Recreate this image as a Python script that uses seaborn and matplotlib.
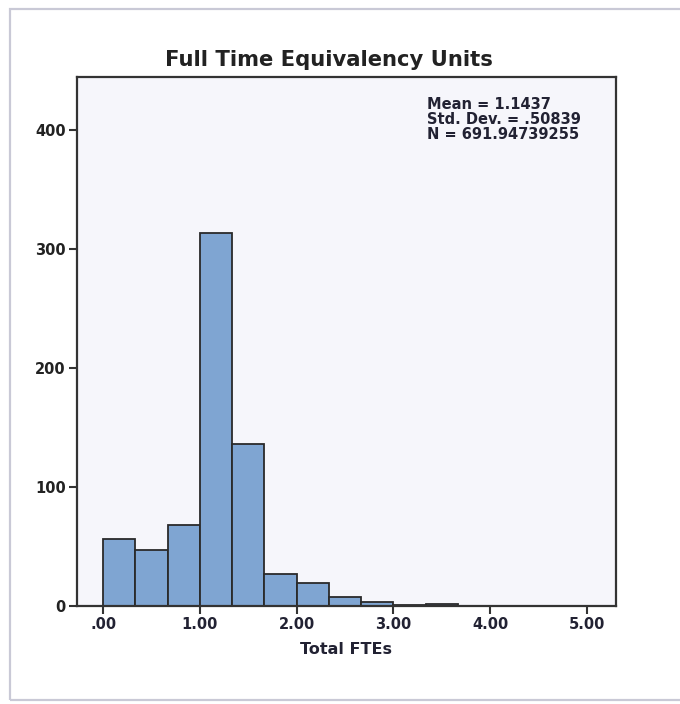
import numpy as np
import pandas as pd
import matplotlib
matplotlib.use("Agg")
import matplotlib.pyplot as plt
from matplotlib.patches import Rectangle
import seaborn as sns

# ---- data (weighted counts per 1/3-unit bin) ----
bin_centers = [0.1667, 0.5, 0.8333, 1.1667, 1.5, 1.8333, 2.1667, 2.5, 2.8333, 3.1667, 3.5]
bin_counts = [56.5, 47.5, 68.0, 314.0, 136.0, 26.5, 19.0, 7.5, 3.5, 0.5, 1.5]
bin_edges = [0.0, 0.3333, 0.6667, 1.0, 1.3333, 1.6667, 2.0, 2.3333, 2.6667, 3.0, 3.3333, 3.6667]
x_ticks = [0, 1, 2, 3, 4, 5]
x_tick_labels = [".00", "1.00", "2.00", "3.00", "4.00", "5.00"]
y_ticks = [0, 100, 200, 300, 400]
title_text = "Full Time Equivalency Units"
x_label = "Total FTEs"
stats_lines = ["Mean = 1.1437", "Std. Dev. = .50839", "N = 691.94739255"]

df = pd.DataFrame({"fte": bin_centers, "w": bin_counts})

sns.set_style("ticks")
plt.rcParams["font.family"] = ["DejaVu Sans"]

W, H = 680, 704
fig = plt.figure(figsize=(W / 100, H / 100), dpi=100)
fig.patch.set_facecolor("white")

ax_l, ax_r, ax_t, ax_b = 77, 616, 77, 606
ax = fig.add_axes([ax_l / W, 1 - ax_b / H, (ax_r - ax_l) / W, (ax_b - ax_t) / H])
ax.set_facecolor("#f6f6fb")

sns.histplot(data=df, x="fte", weights="w", bins=bin_edges, ax=ax,
             color="#7fa5d2", alpha=1.0, edgecolor="#2a2a2a", linewidth=1.3)

ax.set_xlim(-0.27, 5.30)
ax.set_ylim(0, 445)
ax.set_xticks(x_ticks)
ax.set_xticklabels(x_tick_labels, fontsize=10.5, fontweight="bold", color="#222233")
ax.set_yticks(y_ticks)
ax.set_yticklabels([str(v) for v in y_ticks], fontsize=10.5, fontweight="bold", color="#222222")
ax.tick_params(axis="both", direction="out", length=6, width=1.5, color="#333333", pad=2)
ax.set_xlabel(x_label, fontsize=11.5, fontweight="bold", color="#222233", labelpad=7)
ax.set_ylabel("")
for s in ax.spines.values():
    s.set_visible(True)
    s.set_color("#333333")
    s.set_linewidth(1.6)

ax.text(0.649, 0.962, "\n".join(stats_lines), transform=ax.transAxes,
        ha="left", va="top", fontsize=10.5, fontweight="bold", color="#222233",
        linespacing=0.98)

fig.text(329 / W, 1 - 60 / H, title_text, ha="center", va="center",
         fontsize=15.2, fontweight="bold", color="#222222")

# outer light frame
fig.patches.append(Rectangle((10 / W, 1 - 700 / H), 1.2, (700 - 9) / H,
                             transform=fig.transFigure, fill=False,
                             edgecolor="#c9c9d6", linewidth=1.6))

fig.savefig("out.png", dpi=100)
